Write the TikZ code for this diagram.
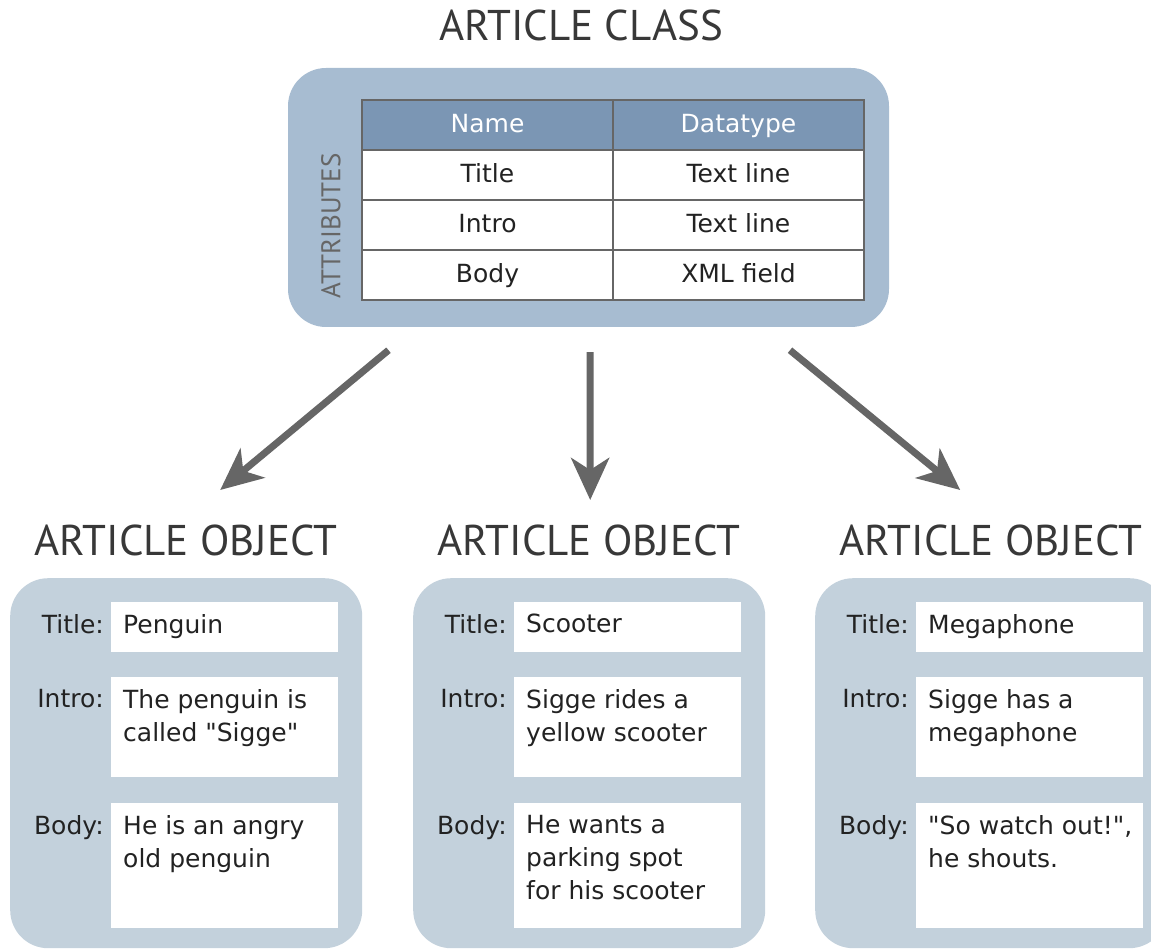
\documentclass[tikz,border=0pt]{standalone}
\usepackage{fontspec}
\setmainfont{DejaVu Sans}[Ligatures=TeXOff]
\newfontfamily\headfont{PT Sans}
\usetikzlibrary{arrows.meta, positioning}
\definecolor{classblue}{HTML}{A7BCD1}
\definecolor{headblue}{HTML}{7B96B4}
\definecolor{objblue}{HTML}{C3D1DC}
\definecolor{arrowgray}{HTML}{666666}
\definecolor{inkgray}{HTML}{222222}

\begin{document}
\begin{tikzpicture}[
        x=1pt, y=-1pt,
        heading/.style={font=\headfont\fontsize{43}{43}\selectfont, text=inkgray!90, inner sep=0pt},
        classbox/.style={fill=classblue, rounded corners=38pt, minimum width=601pt, minimum height=259pt},
        objbox/.style={fill=objblue, rounded corners=38pt, minimum width=352pt, minimum height=370pt, anchor=north west},
        cell/.style={draw=arrowgray, line width=2pt, fill=white, minimum width=251pt, minimum height=50pt,
                     text height=20pt, text depth=4pt, font=\fontsize{25}{30}\selectfont, text=inkgray},
        headcell/.style={cell, fill=headblue, text=white},
        field/.style={fill=white, minimum width=227pt, anchor=north west, inner sep=0pt},
        fieldtext/.style={anchor=north west, inner sep=0pt, align=left, font=\fontsize{25}{33}\selectfont, text=inkgray},
        fieldlabel/.style={anchor=north east, inner sep=0pt, font=\fontsize{25}{33}\selectfont, text=inkgray},
        link/.style={draw=arrowgray, line width=7pt, -{Stealth[length=42pt, width=38pt, inset=12pt]}},
        ]
        \useasboundingbox (0,0) rectangle (1151,949);

        % class with its attribute table
        \node[heading] (cls) at (581,25) {ARTICLE CLASS};
        \node[classbox] (class) at (588.5,197.5) {};
        \node[headcell] (hname) at (487.5,125) {Name};
        \node[headcell] (htype) at (738.5,125) {Datatype};
        \foreach \nm/\dt [count=\i] in {Title/Text line, Intro/Text line, Body/XML field}{
          \node[cell] (n\i) at (487.5,125+50*\i) {\nm};
          \node[cell] (d\i) at (738.5,125+50*\i) {\dt};
        }
        \node[rotate=90, font=\headfont\fontsize{27}{27}\selectfont, text=arrowgray] (attr) at (331,226) {ATTRIBUTES};

        % the three objects
        \foreach \bx/\ttl/\intro/\body [count=\k] in {
            10/Penguin/{The penguin is\\called "Sigge"}/{He is an angry\\old penguin},
            413/Scooter/{Sigge rides a\\yellow scooter}/{He wants a\\parking spot\\for his scooter},
            815/Megaphone/{Sigge has a\\megaphone}/{"So watch out!",\\he shouts.}}{
          \node[objbox] (obj\k) at (\bx,578) {};
          \node[heading] (ot\k) at ([yshift=38pt]obj\k.north) {ARTICLE OBJECT};
          \node[field, minimum height=50pt] (ft\k) at (\bx+101,602) {};
          \node[field, minimum height=100pt] (fi\k) at (\bx+101,677) {};
          \node[field, minimum height=125pt] (fb\k) at (\bx+101,803) {};
          \node[fieldtext] (ftt\k) at ([xshift=12pt,yshift=-12pt]ft\k.north west) {\ttl};
          \node[fieldtext] (fit\k) at ([xshift=12pt,yshift=-12pt]fi\k.north west) {\intro};
          \node[fieldtext] (fbt\k) at ([xshift=12pt,yshift=-12pt]fb\k.north west) {\body};
          \node[fieldlabel] (ftl\k) at ([xshift=-7pt,yshift=-12pt]ft\k.north west) {Title:};
          \node[fieldlabel] (fil\k) at ([xshift=-7pt,yshift=-12pt]fi\k.north west) {Intro:};
          \node[fieldlabel] (fbl\k) at ([xshift=-7pt,yshift=-12pt]fb\k.north west) {Body:};
        }

        \draw[link] ([xshift=-200pt,yshift=-23pt]class.south) -- ([xshift=34pt,yshift=88pt]obj1.north);
        \draw[link] ([xshift=1.5pt,yshift=-25pt]class.south) -- ([xshift=1pt,yshift=78pt]obj2.north);
        \draw[link] ([xshift=201.5pt,yshift=-23pt]class.south) -- ([xshift=-31pt,yshift=88pt]obj3.north);
      \end{tikzpicture}
\end{document}
